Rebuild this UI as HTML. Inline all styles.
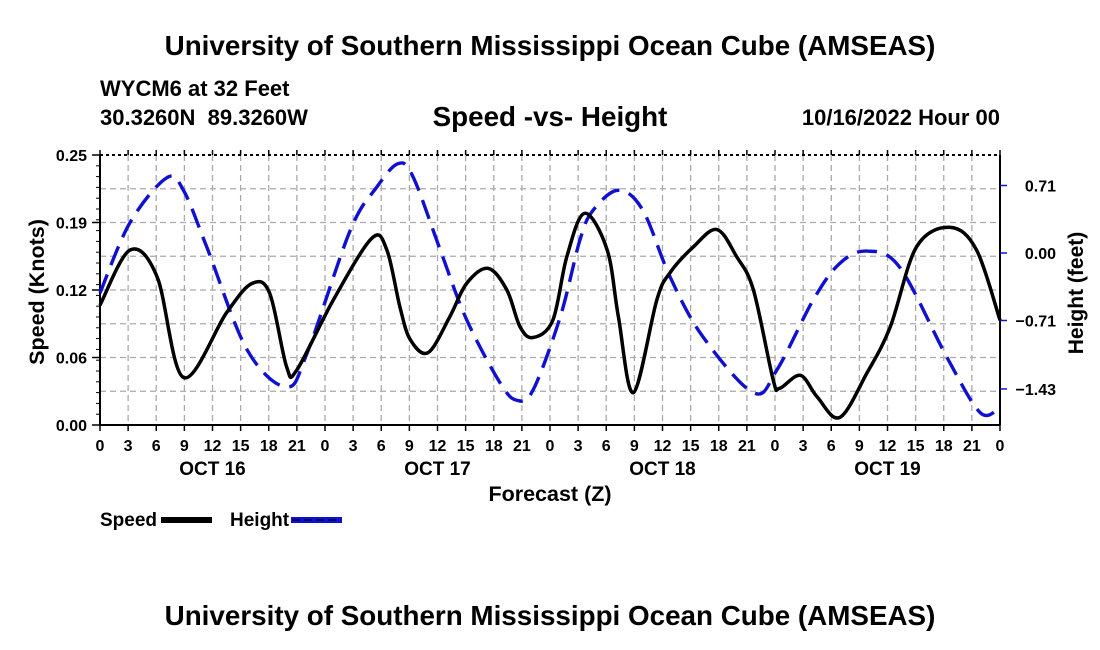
<!DOCTYPE html>
<html><head><meta charset="utf-8"><style>
body{margin:0;background:#fff;}
svg{display:block;font-family:"Liberation Sans",Arial,sans-serif;font-weight:bold;}
</style></head><body>
<svg id="chart" width="1100" height="650" viewBox="0 0 1100 650" xmlns="http://www.w3.org/2000/svg">
<rect width="1100" height="650" fill="#fff"/>
<text x="550" y="55" font-size="27.8" text-anchor="middle">University of Southern Mississippi Ocean Cube (AMSEAS)</text>
<text x="100" y="96" font-size="22">WYCM6 at 32 Feet</text>
<text x="100" y="125" font-size="22" xml:space="preserve">30.3260N  89.3260W</text>
<text x="550" y="126" font-size="27.8" text-anchor="middle">Speed -vs- Height</text>
<text x="1000" y="125" font-size="22" text-anchor="end">10/16/2022 Hour 00</text>
<g id="grid"></g>
<g id="axes"></g>
<g id="series"></g>
<text transform="translate(44,292) rotate(-90)" font-size="21.5" text-anchor="middle">Speed (Knots)</text>
<text transform="translate(1083,293) rotate(-90)" font-size="21" text-anchor="middle">Height (feet)</text>
<text x="550" y="501" font-size="21.5" text-anchor="middle">Forecast (Z)</text>
<g>
<text x="100" y="526" font-size="19">Speed</text>
<rect x="161" y="517" width="51" height="6" fill="#000"/>
<text x="230" y="526" font-size="19">Height</text>
<rect x="291" y="517" width="51" height="6" fill="#1010d0"/>
<line x1="292" y1="520" x2="341" y2="520" stroke="#000" stroke-width="1" stroke-dasharray="8,4"/>
</g>
<text x="550" y="625" font-size="27.8" text-anchor="middle">University of Southern Mississippi Ocean Cube (AMSEAS)</text>
</svg>
<script>
const speedHours=[0,3.2,6.1,8.9,13.5,16.2,18.1,19.9,21.0,24.9,29.0,30.6,32.0,33.1,35.0,37.3,39.1,41.4,43.4,44.8,46.2,48.3,49.8,51.7,54.1,55.3,56.9,59.4,60.8,63.3,65.8,67.9,69.7,71.8,72.5,74.7,76.5,78.9,81.8,84.3,87.1,90.7,93.5,96];
const speedValues=[0.111,0.162,0.137,0.044,0.104,0.131,0.122,0.054,0.051,0.116,0.173,0.162,0.109,0.079,0.067,0.100,0.131,0.145,0.125,0.091,0.081,0.097,0.156,0.196,0.162,0.100,0.030,0.116,0.141,0.165,0.181,0.156,0.125,0.042,0.034,0.046,0.026,0.007,0.048,0.091,0.165,0.183,0.162,0.097];
const heightHours=[0,3.2,7.1,8.9,11.4,15.7,19.9,22.1,26.7,29.5,31.8,33.4,36.3,39.1,42.7,44.5,46.2,49.1,51.2,52.6,55.3,57.9,60.8,64.3,69.7,72.2,76.1,78.9,81.8,85.3,90.3,93.9,96];
const heightValues=[-0.42,0.32,0.79,0.66,0.06,-1.02,-1.41,-1.05,0.24,0.69,0.94,0.80,0.03,-0.70,-1.37,-1.55,-1.44,-0.67,0.14,0.45,0.66,0.45,-0.25,-0.88,-1.47,-1.23,-0.49,-0.11,0.02,-0.15,-1.09,-1.68,-1.62];
const xTickLabels=["0","3","6","9","12","15","18","21","0","3","6","9","12","15","18","21","0","3","6","9","12","15","18","21","0","3","6","9","12","15","18","21","0"];
const dayLabels=["OCT 16","OCT 17","OCT 18","OCT 19"];
const speedTicks=[0,0.0625,0.125,0.1875,0.25];
const speedTickLabels=["0.00","0.06","0.12","0.19","0.25"];
const heightTicks=[0.71,0,-0.71,-1.43];
const heightTickLabels=["0.71","0.00","-0.71","-1.43"];

const L=100,R=1000,T=155,B=425;
const xS=h=>L+(h/96)*(R-L);
const yS=v=>B-(v/0.25)*(B-T);
const hMax=(253-T)/95.07, hMin=(253-B)/95.07;
const yH=v=>T+(hMax-v)/(hMax-hMin)*(B-T);
const NS="http://www.w3.org/2000/svg";
function mk(tag,attrs,parent){const e=document.createElementNS(NS,tag);for(const k in attrs)e.setAttribute(k,attrs[k]);parent.appendChild(e);return e;}
const grid=document.getElementById('grid'),axes=document.getElementById('axes'),series=document.getElementById('series');
for(let i=1;i<32;i++){const g=mk('line',{x1:xS(i*3),x2:xS(i*3),y1:T,y2:B,stroke:'#aaa','stroke-width':1.3,'stroke-dasharray':'6,4'},grid);

}
for(let i=1;i<8;i++){const y=T+i*(B-T)/8;const g=mk('line',{x1:L,x2:R,y1:y,y2:y,stroke:'#aaa','stroke-width':1.3,'stroke-dasharray':'6,4'},grid);

}
mk('line',{x1:L,x2:L,y1:T,y2:B,stroke:'#000','stroke-width':2},axes);
mk('line',{x1:R,x2:R,y1:T,y2:B,stroke:'#000','stroke-width':2},axes);
mk('line',{x1:L,x2:R,y1:B,y2:B,stroke:'#000','stroke-width':2},axes);
mk('line',{x1:L,x2:R,y1:T,y2:T,stroke:'#000','stroke-width':2,'stroke-dasharray':'3,3'},axes);
xTickLabels.forEach((lab,i)=>{const x=xS(i*3);
mk('line',{x1:x,x2:x,y1:B,y2:B+6,stroke:'#000','stroke-width':1.5},axes);
mk('line',{x1:x,x2:x,y1:T,y2:T-5,stroke:'#000','stroke-width':1.5},axes);
const t=mk('text',{x:x,y:B+26,'font-size':16,'text-anchor':'middle'},axes);t.textContent=lab;

});
dayLabels.forEach((d,i)=>{const t=mk('text',{x:xS(12+24*i),y:B+50,'font-size':19,'text-anchor':'middle'},axes);t.textContent=d;

});
speedTicks.forEach((v,i)=>{const y=yS(v);
mk('line',{x1:L-8,x2:L,y1:y,y2:y,stroke:'#000','stroke-width':1.5},axes);
const t=mk('text',{x:L-13,y:y+6,'font-size':16,'text-anchor':'end'},axes);t.textContent=speedTickLabels[i];

});
for(let i=0;i<=25;i++){const y=B-i*(B-T)/25;mk('line',{x1:L-4,x2:L,y1:y,y2:y,stroke:'#000','stroke-width':1},axes);}
heightTicks.forEach((v,i)=>{const y=yH(v);
mk('line',{x1:R,x2:R+7,y1:y,y2:y,stroke:'#1010d0','stroke-width':1.5},axes);
const t=mk('text',{x:R+56,y:y+6,'font-size':16,'text-anchor':'end'},axes);t.textContent=heightTickLabels[i].replace('-','\u2212');

});
function pathFrom(pts){let d=`M${pts[0][0]},${pts[0][1]}`;
for(let i=0;i<pts.length-1;i++){const p0=pts[Math.max(0,i-1)],p1=pts[i],p2=pts[i+1],p3=pts[Math.min(pts.length-1,i+2)];
const c1=[p1[0]+(p2[0]-p0[0])/6,p1[1]+(p2[1]-p0[1])/6],c2=[p2[0]-(p3[0]-p1[0])/6,p2[1]-(p3[1]-p1[1])/6];
d+=` C${c1[0]},${c1[1]} ${c2[0]},${c2[1]} ${p2[0]},${p2[1]}`;}return d;}
const hp=mk('path',{d:pathFrom(heightHours.map((h,i)=>[xS(h),yH(heightValues[i])])),fill:'none',stroke:'#1010d0','stroke-width':3.4,'stroke-dasharray':'20,10'},series);


const sp=mk('path',{d:pathFrom(speedHours.map((h,i)=>[xS(h),yS(speedValues[i])])),fill:'none',stroke:'#000','stroke-width':3.5},series);


</script>
</body></html>
